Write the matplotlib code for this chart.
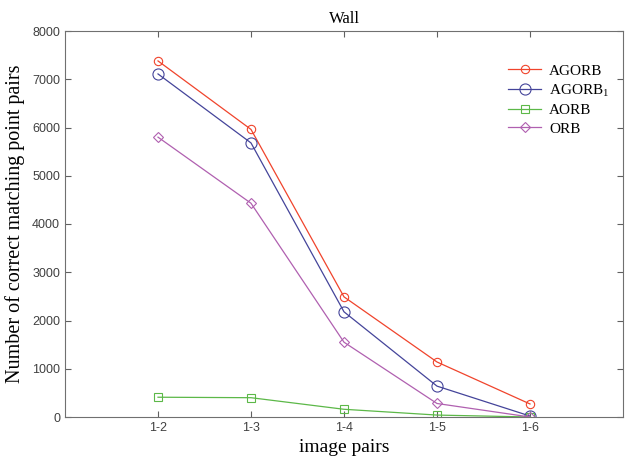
import numpy as np
import matplotlib.pyplot as plt

plt.rcParams["mathtext.fontset"] = "custom"
plt.rcParams["mathtext.rm"] = "Liberation Serif"

pairs = ["1-2", "1-3", "1-4", "1-5", "1-6"]
agorb = [7380, 5960, 2490, 1140, 270]
agorb1 = [7110, 5680, 2180, 640, 20]
aorb = [410, 400, 160, 40, 0]
orb = [5800, 4430, 1550, 280, 0]

fig = plt.figure(figsize=(6.26, 4.59), dpi=100)
ax = fig.add_axes([65/626, 42/459, 558/626, 386/459])

x = np.arange(1, len(pairs) + 1)
ax.plot(x, agorb, color="#f0442c", lw=0.9, marker="o", ms=6, mfc="none", mew=0.8, label="AGORB")
ax.plot(x, agorb1, color="#44449a", lw=0.9, marker="o", ms=8, mfc="none", mew=0.8, label=r"AGORB$_\mathrm{1}$")
ax.plot(x, aorb, color="#5cb848", lw=0.9, marker="s", ms=6, mfc="none", mew=0.8, label="AORB")
ax.plot(x, orb, color="#b060b0", lw=0.9, marker="D", ms=5, mfc="none", mew=0.8, label="ORB")

ax.set_xlim(0, 6)
ax.set_ylim(0, 8000)
ax.set_xticks(x)
ax.set_xticklabels(pairs)
ax.set_yticks(range(0, 8001, 1000))
ax.tick_params(direction="in", top=True, right=True, colors="#606060", labelcolor="#404040",
               labelsize=9, length=4)
for lab in ax.get_xticklabels() + ax.get_yticklabels():
    lab.set_family("Liberation Sans")
for s in ax.spines.values():
    s.set_color("#707070")

ax.set_title("Wall", family="Liberation Serif", fontsize=12, pad=6)
ax.set_xlabel("image pairs", family="Liberation Serif", fontsize=14, labelpad=4)
ax.set_ylabel("Number of correct matching point pairs", family="Liberation Serif", fontsize=14.5, labelpad=5)

ax.legend(loc="upper right", bbox_to_anchor=(1.0, 0.95), frameon=False,
          prop={"family": "Liberation Serif", "size": 11}, handlelength=2.2,
          labelspacing=0.3, handletextpad=0.5)

fig.savefig("out.png", dpi=100)
